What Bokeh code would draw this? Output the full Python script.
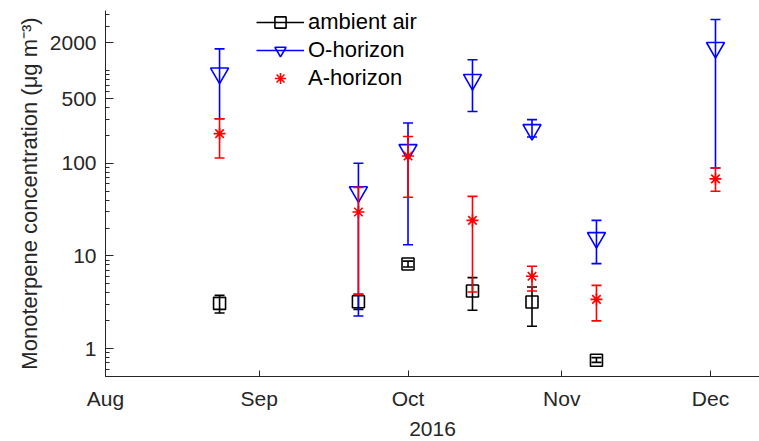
import pandas as pd
from bokeh.plotting import figure
from bokeh.models import (ColumnDataSource, FixedTicker, DatetimeTickFormatter,
                          PrintfTickFormatter, Legend, LegendItem, Range1d)
from bokeh.embed import file_html
from bokeh.resources import INLINE

# ---- data ----
amb_dates = ["2016-08-24", "2016-09-21", "2016-10-01", "2016-10-14", "2016-10-26", "2016-11-08"]
amb_val = [3.08, 3.2, 8.2, 4.18, 3.18, 0.75]
amb_lo = [2.42, 2.65, 7.6, 2.59, 1.74, 0.71]
amb_hi = [3.77, 3.85, 8.8, 5.83, 4.62, 0.80]

soil_dates = ["2016-08-24", "2016-09-21", "2016-10-01", "2016-10-14", "2016-10-26", "2016-11-08", "2016-12-02"]
o_val = [938, 49, 140, 800, 230, 15.7, 1770]
o_lo = [303, 2.25, 13.2, 363, 192, 8.26, 89]
o_hi = [1720, 100, 272, 1311, 296, 24.2, 3565]

a_val = [209, 29.8, 120, 24.2, 6.03, 3.4, 68]
a_lo = [114, 3.85, 43, 4.08, 4.18, 1.99, 50]
a_hi = [303, 55, 195, 44, 7.73, 4.82, 89]

month_ticks = ["2016-08-01", "2016-09-01", "2016-10-01", "2016-11-01", "2016-12-01"]
y_major = [1, 10, 100, 500, 2000]
y_minor = [0.5, 0.6, 0.7, 0.8, 0.9, 2, 3, 4, 5, 6, 7, 8, 9,
           20, 30, 40, 50, 60, 70, 80, 90, 200, 300, 400, 600, 700, 800, 900,
           1000, 3000, 4000]

x_start = pd.Timestamp("2016-08-01")
x_end = pd.Timestamp("2016-12-10 21:00")

FONT = "Liberation Sans"
AX = "#262626"

p = figure(width=759, height=441, x_axis_type="datetime", y_axis_type="log",
           x_range=Range1d(x_start, x_end), y_range=Range1d(0.5, 4460),
           output_backend="svg", toolbar_location=None,
           min_border_left=105, min_border_right=0, min_border_top=10, min_border_bottom=65)
p.outline_line_color = None
p.grid.visible = False
p.background_fill_color = "white"


def series(dates, val, lo, hi, color, marker, size):
    src = ColumnDataSource(dict(x=pd.to_datetime(dates), y=val, lo=lo, hi=hi))
    seg = p.segment(x0="x", y0="lo", x1="x", y1="hi", source=src, line_color=color, line_width=1.6)
    p.scatter(x="x", y="lo", source=src, marker="dash", size=10, line_color=color, line_width=1.6)
    p.scatter(x="x", y="hi", source=src, marker="dash", size=10, line_color=color, line_width=1.6)
    mk = p.scatter(x="x", y="y", source=src, marker=marker, size=size, line_color=color,
                   fill_color=None, line_width=1.6)
    return seg, mk


amb_seg, amb_mk = series(amb_dates, amb_val, amb_lo, amb_hi, "black", "square", 12)
o_seg, o_mk = series(soil_dates, o_val, o_lo, o_hi, "#0000FF", "inverted_triangle", 18)
a_seg, a_mk = series(soil_dates, a_val, a_lo, a_hi, "#FF0000", "asterisk", 12)

# ---- axes ----
xa = p.xaxis[0]
xa.ticker = FixedTicker(ticks=[pd.Timestamp(d).value // 10**6 for d in month_ticks])
xa.formatter = DatetimeTickFormatter(months="%b", days="%b", hours="%b", minutes="%b",
                                     seconds="%b", milliseconds="%b", years="%b")
xa.axis_label = "2016"
xa.major_tick_in = 6
xa.major_tick_out = 0
xa.major_label_standoff = 10
xa.axis_label_standoff = 9

ya = p.yaxis[0]
ya.ticker = FixedTicker(ticks=y_major, minor_ticks=y_minor)
ya.formatter = PrintfTickFormatter(format="%d")
ya.axis_label = "Monoterpene concentration (μg m⁻³)"
ya.major_tick_in = 8
ya.major_tick_out = 0
ya.minor_tick_in = 4
ya.minor_tick_out = 0
ya.major_label_standoff = 9
ya.axis_label_standoff = 5

for ax in (xa, ya):
    ax.axis_line_color = AX
    ax.axis_line_width = 1
    ax.major_tick_line_color = AX
    ax.minor_tick_line_color = AX
    ax.major_label_text_font = FONT
    ax.major_label_text_font_size = "21px"
    ax.major_label_text_color = AX
    ax.axis_label_text_font = FONT
    ax.axis_label_text_font_size = "21px"
    ax.axis_label_text_font_style = "normal"
    ax.axis_label_text_color = AX
ya.axis_label_text_font_size = "22px"

# ---- legend ----
legend = Legend(items=[
    LegendItem(label="ambient air", renderers=[amb_seg, amb_mk]),
    LegendItem(label="O-horizon", renderers=[o_seg, o_mk]),
    LegendItem(label="A-horizon", renderers=[a_mk]),
], location=(151, 284))
legend.glyph_width = 48
legend.glyph_height = 28
legend.label_height = 28
legend.spacing = 0
legend.padding = 0
legend.margin = 0
legend.label_standoff = 4
legend.label_text_font = FONT
legend.label_text_font_size = "22px"
legend.label_text_color = "black"
legend.background_fill_alpha = 0
legend.border_line_color = None
p.add_layout(legend, "center")

open("out.html", "w").write(file_html(p, INLINE))
